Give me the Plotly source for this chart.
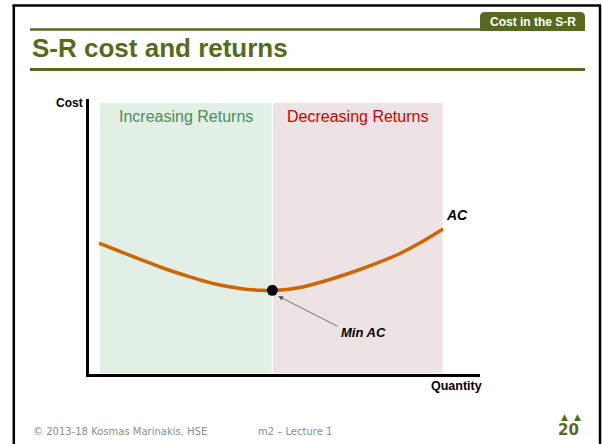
import plotly.graph_objects as go

W, H = 602, 444

# ---- data ----
quantity = [0.62, 2.44, 4.20, 5.96, 7.31, 8.90, 10.08, 10.84, 12.43, 13.89, 15.36, 16.83, 18.30, 19.77, 20.83]
avg_cost = [4.75, 4.30, 3.88, 3.52, 3.28, 3.10, 3.03, 3.02, 3.13, 3.37, 3.66, 3.99, 4.37, 4.86, 5.26]
min_ac_q = [10.8]
min_ac_c = [3.03]
region_labels = ["Increasing Returns", "Decreasing Returns"]
region_start = [0.68, 10.84]
region_end = [10.76, 20.80]
region_top = 9.85
x_range = [0, 23]
y_range = [0, 10]

OLIVE = "#566A1C"
FONT = "Liberation Sans, Arial, sans-serif"


def px(x):
    return x / W


def py(y):
    return 1 - y / H


fig = go.Figure()

fig.add_trace(go.Scatter(
    x=quantity, y=avg_cost, mode="lines",
    line=dict(color="#CC6600", width=3.5, shape="spline", smoothing=0.7),
    hoverinfo="skip", showlegend=False))
fig.add_trace(go.Scatter(
    x=min_ac_q, y=min_ac_c, mode="markers", marker=dict(color="black", size=11),
    hoverinfo="skip", showlegend=False))

shapes = []
region_fill = ["#E2EFE5", "#EDE3E5"]
for s, e, c in zip(region_start, region_end, region_fill):
    shapes.append(dict(type="rect", xref="x", yref="y", x0=s, x1=e, y0=0, y1=region_top,
                       fillcolor=c, line=dict(width=0), layer="below"))

# slide frame
shapes.append(dict(type="line", xref="paper", yref="paper", x0=px(13.8), x1=px(13.8), y0=py(5), y1=py(450),
                   line=dict(color="black", width=2.5)))
shapes.append(dict(type="line", xref="paper", yref="paper", x0=px(12.5), x1=px(601), y0=py(5.5), y1=py(5.5),
                   line=dict(color="black", width=2.5)))
shapes.append(dict(type="line", xref="paper", yref="paper", x0=px(600), x1=px(600), y0=py(5), y1=py(450),
                   line=dict(color="black", width=2.5)))
# header lines
shapes.append(dict(type="line", xref="paper", yref="paper", x0=px(30), x1=px(482), y0=py(29.5), y1=py(29.5),
                   line=dict(color=OLIVE, width=2.5)))
shapes.append(dict(type="line", xref="paper", yref="paper", x0=px(30), x1=px(585), y0=py(69.5), y1=py(69.5),
                   line=dict(color=OLIVE, width=3)))
# tab with rounded top corners
tx0, tx1, ty0, ty1, r = 480, 585, 12, 31, 5
path = (f"M {px(tx0)},{py(ty1)} L {px(tx0)},{py(ty0 + r)} Q {px(tx0)},{py(ty0)} {px(tx0 + r)},{py(ty0)} "
        f"L {px(tx1 - r)},{py(ty0)} Q {px(tx1)},{py(ty0)} {px(tx1)},{py(ty0 + r)} L {px(tx1)},{py(ty1)} Z")
shapes.append(dict(type="path", xref="paper", yref="paper", path=path, fillcolor=OLIVE, line=dict(width=0)))

annotations = [
    dict(text="Cost in the S-R", x=px(532.5), y=py(22), xref="paper", yref="paper", showarrow=False,
         font=dict(family=FONT, size=12, color="white", weight="bold"), xanchor="center", yanchor="middle"),
    dict(text="S-R cost and returns", x=px(30), y=py(48), xref="paper", yref="paper", showarrow=False,
         font=dict(family=FONT, size=26, color=OLIVE, weight="bold"), xanchor="left", yanchor="middle"),
    dict(text="Cost", x=px(85), y=py(103), xref="paper", yref="paper", showarrow=False,
         font=dict(family=FONT, size=12, color="black", weight="bold"), xanchor="right", yanchor="middle"),
    dict(text="Quantity", x=px(456), y=py(386), xref="paper", yref="paper", showarrow=False,
         font=dict(family=FONT, size=12.5, color="black", weight="bold"), xanchor="center", yanchor="middle"),
    dict(text="© 2013-18 Kosmas Marinakis, HSE", x=px(31), y=py(431), xref="paper", yref="paper",
         showarrow=False, font=dict(family="DejaVu Sans, sans-serif", size=10, color="#8C8C8C"),
         xanchor="left", yanchor="middle"),
    dict(text="m2 – Lecture 1", x=px(256), y=py(431), xref="paper", yref="paper",
         showarrow=False, font=dict(family="DejaVu Sans, sans-serif", size=10, color="#8C8C8C"),
         xanchor="left", yanchor="middle"),
    dict(text="20", x=px(581), y=py(430), xref="paper", yref="paper", showarrow=False,
         font=dict(family="DejaVu Sans, sans-serif", size=15, color=OLIVE, weight="bold"),
         xanchor="right", yanchor="middle"),
    dict(text="▲", x=px(564), y=py(417), xref="paper", yref="paper", showarrow=False,
         font=dict(family="DejaVu Sans, sans-serif", size=9, color=OLIVE),
         xanchor="center", yanchor="middle"),
    dict(text="▲", x=px(577), y=py(417), xref="paper", yref="paper", showarrow=False,
         font=dict(family="DejaVu Sans, sans-serif", size=9, color=OLIVE),
         xanchor="center", yanchor="middle"),
    dict(text="AC", x=21.65, y=5.77, xref="x", yref="y", showarrow=False,
         font=dict(family=FONT, size=14, color="black", weight="bold", style="italic")),
    dict(text="Min AC", x=16.13, y=1.48, xref="x", yref="y", showarrow=False,
         font=dict(family=FONT, size=13, color="black", weight="bold", style="italic")),
    dict(text="", x=11.15, y=2.82, ax=14.72, ay=1.69, xref="x", yref="y", axref="x", ayref="y",
         showarrow=True, arrowhead=2, arrowsize=1.2, arrowwidth=0.8, arrowcolor="#555555"),
]
region_colors = ["#4E8B5A", "#CC0000"]
for lab, s, e, c in zip(region_labels, region_start, region_end, region_colors):
    annotations.append(dict(text=lab, x=(s + e) / 2, y=9.38, xref="x", yref="y", showarrow=False,
                            font=dict(family=FONT, size=16, color=c)))

fig.update_layout(
    width=W, height=H, margin=dict(l=0, r=0, t=0, b=0),
    paper_bgcolor="white", plot_bgcolor="white",
    shapes=shapes, annotations=annotations, showlegend=False,
    xaxis=dict(domain=[px(88.5), px(480)], range=x_range, showgrid=False, zeroline=False,
               showticklabels=False, ticks="", showline=True, linecolor="black", linewidth=3,
               fixedrange=True),
    yaxis=dict(domain=[py(373.5), py(99)], range=y_range, showgrid=False, zeroline=False,
               showticklabels=False, ticks="", showline=True, linecolor="black", linewidth=3,
               fixedrange=True),
)

fig.write_html("out.html", config={"displayModeBar": False},
               post_script="document.body.style.margin='0';document.body.style.overflow='hidden';")
